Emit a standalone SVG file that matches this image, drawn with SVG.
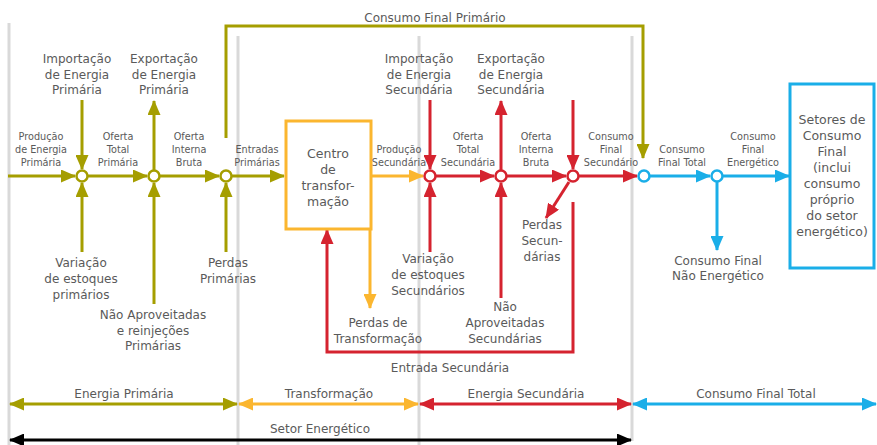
<svg xmlns="http://www.w3.org/2000/svg" width="877" height="445" viewBox="0 0 877 445">
<style>
text{font-family:"DejaVu Sans","Open Sans",sans-serif;fill:#5a5a5a;text-anchor:middle}
.b{font-size:12px}
.s{font-size:9.7px}
.x{font-size:12.5px}
.g{stroke:#d9d9d9;stroke-width:3;fill:none}
.o{stroke:#a59e00;stroke-width:3;fill:none}
.r{stroke:#d5232f;stroke-width:3;fill:none}
.y{stroke:#fbb62f;stroke-width:3;fill:none}
.u{stroke:#1aaee8;stroke-width:3;fill:none}
.k{stroke:#000;stroke-width:3;fill:none}
.co{stroke:#a59e00;stroke-width:2.5;fill:#fff}
.cr{stroke:#d5232f;stroke-width:2.5;fill:#fff}
.cu{stroke:#1aaee8;stroke-width:2.5;fill:#fff}
.mo{marker-end:url(#ao)}.mr{marker-end:url(#ar)}.my{marker-end:url(#ay)}.mu{marker-end:url(#au)}
</style>
<defs>
<marker id="ao" viewBox="0 0 15 13" refX="14" refY="6.5" markerWidth="15" markerHeight="13" markerUnits="userSpaceOnUse" orient="auto-start-reverse"><path d="M0,0L15,6.5L0,13z" fill="#a59e00"/></marker>
<marker id="ar" viewBox="0 0 15 13" refX="14" refY="6.5" markerWidth="15" markerHeight="13" markerUnits="userSpaceOnUse" orient="auto-start-reverse"><path d="M0,0L15,6.5L0,13z" fill="#d5232f"/></marker>
<marker id="ay" viewBox="0 0 15 13" refX="14" refY="6.5" markerWidth="15" markerHeight="13" markerUnits="userSpaceOnUse" orient="auto-start-reverse"><path d="M0,0L15,6.5L0,13z" fill="#fbb62f"/></marker>
<marker id="au" viewBox="0 0 15 13" refX="14" refY="6.5" markerWidth="15" markerHeight="13" markerUnits="userSpaceOnUse" orient="auto-start-reverse"><path d="M0,0L15,6.5L0,13z" fill="#1aaee8"/></marker>
<marker id="ak" viewBox="0 0 15 13" refX="14" refY="6.5" markerWidth="15" markerHeight="13" markerUnits="userSpaceOnUse" orient="auto-start-reverse"><path d="M0,0L15,6.5L0,13z" fill="#000"/></marker>
</defs>
<g id="guides">
<line class="g" x1="9" y1="23" x2="9" y2="445"/>
<line class="g" x1="238" y1="36" x2="238" y2="445"/>
<line class="g" x1="419" y1="36" x2="419" y2="445"/>
<line class="g" x1="632" y1="36" x2="632" y2="441"/>
</g>
<g id="connectors">
<line class="o mo" x1="8" y1="176" x2="75" y2="176"/>
<line class="o mo" x1="88" y1="176" x2="147" y2="176"/>
<line class="o mo" x1="160" y1="176" x2="219" y2="176"/>
<line class="o mo" x1="232" y1="176" x2="284" y2="176"/>
<line class="o mo" x1="82" y1="100" x2="82" y2="169"/>
<line class="o mo" x1="154" y1="170" x2="154" y2="101"/>
<line class="o mo" x1="82" y1="252" x2="82" y2="183"/>
<line class="o mo" x1="154" y1="304" x2="154" y2="183"/>
<line class="o mo" x1="226" y1="252" x2="226" y2="183"/>
<path class="o mo" d="M226,138V26H643V158"/>
<line class="y my" x1="371" y1="176" x2="423" y2="176"/>
<line class="y my" x1="370" y1="229" x2="370" y2="308"/>
<line class="r mr" x1="436" y1="176" x2="494" y2="176"/>
<line class="r mr" x1="507" y1="176" x2="566" y2="176"/>
<line class="r mr" x1="579" y1="176" x2="637" y2="176"/>
<line class="r mr" x1="430" y1="100" x2="430" y2="169"/>
<line class="r mr" x1="501" y1="170" x2="501" y2="101"/>
<line class="r mr" x1="573" y1="100" x2="573" y2="169"/>
<line class="r mr" x1="430" y1="252" x2="430" y2="183"/>
<line class="r mr" x1="501" y1="298" x2="501" y2="183"/>
<line class="r mr" x1="569" y1="182" x2="546" y2="218"/>
<path class="r mr" d="M573,202V352H327V230"/>
<line class="u mu" x1="650" y1="176" x2="710" y2="176"/>
<line class="u mu" x1="723" y1="176" x2="789" y2="176"/>
<line class="u mu" x1="717" y1="182" x2="717" y2="250"/>
<line class="o" marker-start="url(#ao)" marker-end="url(#ao)" x1="10" y1="404" x2="237" y2="404"/>
<line class="y" marker-start="url(#ay)" marker-end="url(#ay)" x1="239" y1="404" x2="418" y2="404"/>
<line class="r" marker-start="url(#ar)" marker-end="url(#ar)" x1="420" y1="404" x2="631" y2="404"/>
<line class="u" marker-start="url(#au)" marker-end="url(#au)" x1="633" y1="404" x2="876" y2="404"/>
<line class="k" marker-start="url(#ak)" marker-end="url(#ak)" x1="10" y1="440" x2="631" y2="440"/>
</g>
<g id="n-p1"><circle class="co" cx="82" cy="176" r="5.5"/></g>
<g id="n-p2"><circle class="co" cx="154" cy="176" r="5.5"/></g>
<g id="n-p3"><circle class="co" cx="226" cy="176" r="5.5"/></g>
<g id="n-s1"><circle class="cr" cx="430" cy="176" r="5.5"/></g>
<g id="n-s2"><circle class="cr" cx="501" cy="176" r="5.5"/></g>
<g id="n-s3"><circle class="cr" cx="573" cy="176" r="5.5"/></g>
<g id="n-f1"><circle class="cu" cx="644" cy="176" r="5.5"/></g>
<g id="n-f2"><circle class="cu" cx="717" cy="176" r="5.5"/></g>
<g id="centro">
<rect x="286" y="121" width="85" height="108" fill="#fff" stroke="#fbb62f" stroke-width="3"/>
<text class="x"><tspan x="328" y="158">Centro</tspan><tspan x="328" y="174">de</tspan><tspan x="328" y="190">transfor-</tspan><tspan x="328" y="206">mação</tspan></text>
</g>
<g id="setores">
<rect x="790" y="84" width="84" height="184" fill="#fff" stroke="#1aaee8" stroke-width="3"/>
<text class="x"><tspan x="832" y="124">Setores de</tspan><tspan x="832" y="140">Consumo</tspan><tspan x="832" y="156">Final</tspan><tspan x="832" y="172">(inclui</tspan><tspan x="832" y="188">consumo</tspan><tspan x="832" y="204">próprio</tspan><tspan x="832" y="220">do setor</tspan><tspan x="832" y="236">energético)</tspan></text>
</g>
<g id="labels">
<text class="b" x="435" y="22">Consumo Final Primário</text>
<text class="b"><tspan x="77" y="63">Importação</tspan><tspan x="77" y="78.5">de Energia</tspan><tspan x="77" y="94">Primária</tspan></text>
<text class="b"><tspan x="164" y="63">Exportação</tspan><tspan x="164" y="78.5">de Energia</tspan><tspan x="164" y="94">Primária</tspan></text>
<text class="b"><tspan x="419" y="63">Importação</tspan><tspan x="419" y="78.5">de Energia</tspan><tspan x="419" y="94">Secundária</tspan></text>
<text class="b"><tspan x="511" y="63">Exportação</tspan><tspan x="511" y="78.5">de Energia</tspan><tspan x="511" y="94">Secundária</tspan></text>
<text class="s"><tspan x="41" y="140">Produção</tspan><tspan x="41" y="153">de Energia</tspan><tspan x="41" y="166">Primária</tspan></text>
<text class="s"><tspan x="118" y="140">Oferta</tspan><tspan x="118" y="153">Total</tspan><tspan x="118" y="166">Primária</tspan></text>
<text class="s"><tspan x="189" y="140">Oferta</tspan><tspan x="189" y="153">Interna</tspan><tspan x="189" y="166">Bruta</tspan></text>
<text class="s"><tspan x="257" y="153">Entradas</tspan><tspan x="257" y="166">Primárias</tspan></text>
<text class="s"><tspan x="399" y="153">Produção</tspan><tspan x="399" y="166">Secundária</tspan></text>
<text class="s"><tspan x="468" y="140">Oferta</tspan><tspan x="468" y="153">Total</tspan><tspan x="468" y="166">Secundária</tspan></text>
<text class="s"><tspan x="536" y="140">Oferta</tspan><tspan x="536" y="153">Interna</tspan><tspan x="536" y="166">Bruta</tspan></text>
<text class="s"><tspan x="611" y="140">Consumo</tspan><tspan x="611" y="153">Final</tspan><tspan x="611" y="166">Secundário</tspan></text>
<text class="s"><tspan x="682" y="153">Consumo</tspan><tspan x="682" y="166">Final Total</tspan></text>
<text class="s"><tspan x="753" y="140">Consumo</tspan><tspan x="753" y="153">Final</tspan><tspan x="753" y="166">Energético</tspan></text>
<text class="b"><tspan x="81" y="267">Variação</tspan><tspan x="81" y="283">de estoques</tspan><tspan x="81" y="299">primários</tspan></text>
<text class="b"><tspan x="153" y="319">Não Aproveitadas</tspan><tspan x="153" y="334.5">e reinjeções</tspan><tspan x="153" y="350">Primárias</tspan></text>
<text class="b"><tspan x="228" y="267">Perdas</tspan><tspan x="228" y="283">Primárias</tspan></text>
<text class="b"><tspan x="378" y="327">Perdas de</tspan><tspan x="378" y="343">Transformação</tspan></text>
<text class="b"><tspan x="428" y="263">Variação</tspan><tspan x="428" y="279">de estoques</tspan><tspan x="428" y="295">Secundários</tspan></text>
<text class="b"><tspan x="505" y="311">Não</tspan><tspan x="505" y="327">Aproveitadas</tspan><tspan x="505" y="343">Secundárias</tspan></text>
<text class="b"><tspan x="542" y="229">Perdas</tspan><tspan x="542" y="245">Secun-</tspan><tspan x="542" y="261">dárias</tspan></text>
<text class="b"><tspan x="718" y="265">Consumo Final</tspan><tspan x="718" y="280">Não Energético</tspan></text>
<text class="b" x="450" y="372">Entrada Secundária</text>
<text class="b" x="124" y="398">Energia Primária</text>
<text class="b" x="329" y="398">Transformação</text>
<text class="b" x="526" y="398">Energia Secundária</text>
<text class="b" x="756" y="398">Consumo Final Total</text>
<text class="b" x="320" y="433">Setor Energético</text>
</g>
</svg>
